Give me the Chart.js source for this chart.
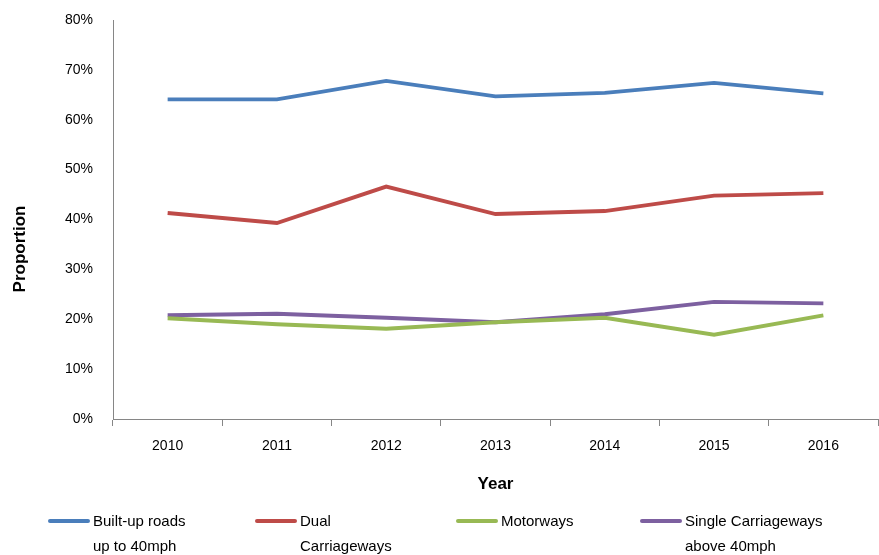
<!DOCTYPE html>
<html>
<head>
<meta charset="utf-8">
<script src="https://cdn.jsdelivr.net/npm/chart.js@4.4.1/dist/chart.umd.min.js"></script>
<style>
  html, body { margin: 0; padding: 0; background: #fff; }
  #wrap { position: relative; width: 879px; height: 555px; }
</style>
</head>
<body>
<div id="wrap"><canvas id="c" width="879" height="555"></canvas></div>
<script>
// Proportion by road type, 2010-2016
const years = ['2010', '2011', '2012', '2013', '2014', '2015', '2016'];
const builtUp = [64.1, 64.1, 67.8, 64.7, 65.4, 67.4, 65.3];
const dualCarriageways = [41.3, 39.3, 46.6, 41.1, 41.7, 44.8, 45.3];
const motorways = [20.2, 19.0, 18.1, 19.4, 20.3, 16.9, 20.8];
const singleCarriageways = [20.8, 21.1, 20.3, 19.4, 21.0, 23.5, 23.2];

const seriesNames = [
  ['Built-up roads', 'up to 40mph'],
  ['Dual', 'Carriageways'],
  ['Motorways'],
  ['Single Carriageways', 'above 40mph']
];
const colors = ['#4A7EBB', '#BE4B48', '#98B954', '#7D60A0'];
const FONT = '"Liberation Sans", Arial, sans-serif';

function ds(i, data) {
  return {
    label: seriesNames[i].join(' '),
    data: data,
    borderColor: colors[i],
    backgroundColor: colors[i],
    borderWidth: 3.8,
    pointRadius: 0,
    pointHoverRadius: 0,
    tension: 0,
    fill: false
  };
}

// Legend with two-line labels below the axes, plus the rotated y-axis title
const annotations = {
  id: 'annotations',
  afterDraw(chart) {
    const ctx = chart.ctx;
    const lineStarts = [50, 257, 458, 642];
    ctx.save();
    ctx.font = '15px ' + FONT;
    ctx.textBaseline = 'middle';
    ctx.textAlign = 'left';
    seriesNames.forEach((lines, i) => {
      const x0 = lineStarts[i];
      ctx.strokeStyle = colors[i];
      ctx.lineWidth = 4;
      ctx.lineCap = 'round';
      ctx.beginPath();
      ctx.moveTo(x0, 521);
      ctx.lineTo(x0 + 38, 521);
      ctx.stroke();
      ctx.fillStyle = '#000';
      lines.forEach((t, k) => ctx.fillText(t, x0 + 43, 522 + k * 25));
    });
    ctx.translate(20, 249);
    ctx.rotate(-Math.PI / 2);
    ctx.textAlign = 'center';
    ctx.font = 'bold 17px ' + FONT;
    ctx.fillText('Proportion', 0, 0);
    ctx.restore();
  }
};

new Chart(document.getElementById('c'), {
  type: 'line',
  data: {
    labels: years,
    datasets: [
      ds(0, builtUp),
      ds(1, dualCarriageways),
      ds(2, motorways),
      ds(3, singleCarriageways)
    ]
  },
  options: {
    responsive: false,
    animation: false,
    layout: { padding: { top: 20, right: 1, bottom: 60, left: 0 } },
    plugins: {
      legend: { display: false },
      tooltip: { enabled: false }
    },
    scales: {
      x: {
        offset: true,
        grid: {
          offset: true,
          drawOnChartArea: false,
          drawTicks: true,
          tickLength: 7,
          color: '#868686'
        },
        border: { color: '#868686', width: 1 },
        ticks: { color: '#000', font: { family: FONT, size: 14 }, padding: 12, maxRotation: 0 },
        title: {
          display: true,
          text: 'Year',
          color: '#000',
          font: { family: FONT, size: 17, weight: 'bold' },
          padding: { top: 0, bottom: 0 }
        },
        afterFit(scale) { scale.height = 76; }
      },
      y: {
        min: 0,
        max: 80,
        grid: { display: false, drawTicks: false },
        border: { color: '#868686', width: 1 },
        ticks: {
          stepSize: 10,
          color: '#000',
          font: { family: FONT, size: 14 },
          padding: 20,
          callback: v => v + '%'
        },
        afterFit(scale) {
          scale.width = 113;
          scale.paddingTop = 0;
          scale.paddingBottom = 0;
        }
      }
    }
  },
  plugins: [annotations]
});
</script>
</body>
</html>
